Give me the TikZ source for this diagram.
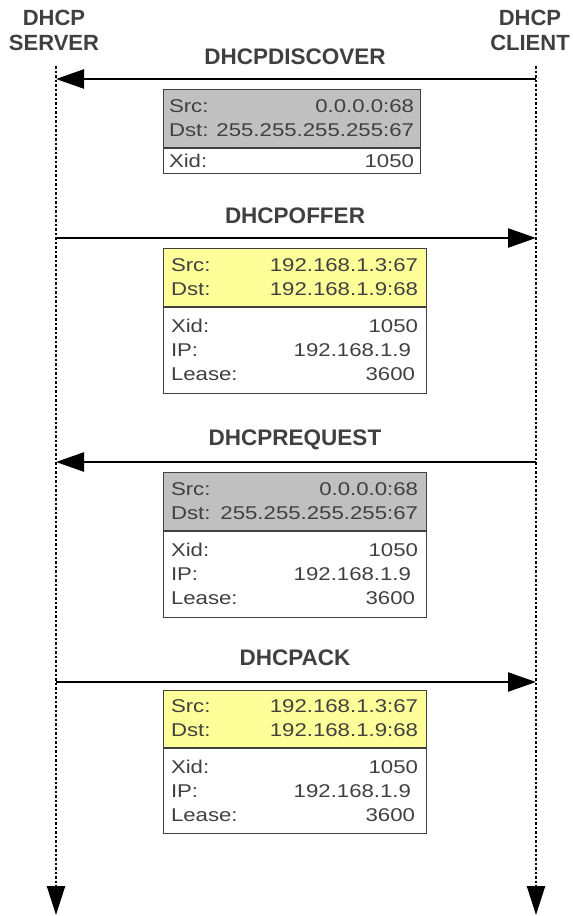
\documentclass[tikz,border=0pt]{standalone}
\usepackage{fontspec}
\setmainfont{Liberation Sans}
\newfontfamily\pktfont[FakeStretch=1.2]{Liberation Sans}
\usetikzlibrary{arrows.meta,positioning}
\definecolor{ink}{RGB}{64,64,64}
\definecolor{hdrgray}{RGB}{192,192,192}
\definecolor{hdryellow}{RGB}{255,255,153}
\newcommand{\pktrow}[2]{\makebox[\hsize]{#1\hfill#2}}
\tikzset{
  actor/.style={font=\fontsize{22}{25}\selectfont\bfseries, text=ink, align=center, inner sep=0pt},
  msg/.style={font=\fontsize{22.5}{25}\selectfont\bfseries, text=ink, inner sep=0pt},
  pkt/.style={draw=ink, line width=1pt, font=\pktfont\fontsize{18.5}{24}\selectfont, text=ink,
              text width=#1, inner xsep=8pt, inner ysep=0pt, align=left},
  pkt/.default=247pt,
  life/.style={line width=2.5pt, dash pattern=on 2.5pt off 2pt, -{Triangle[length=29pt, width=18pt]}},
  send/.style={line width=2.5pt, -{Triangle[length=28pt, width=19pt]}},
}

\begin{document}
\begin{tikzpicture}[x=1pt, y=-1pt]
  \useasboundingbox (0,0) rectangle (573,916);
  % hosts and lifelines
  \node[actor] (srv) at (54,30) {DHCP\\SERVER};
  \node[actor] (cli) at (530,30) {DHCP\\CLIENT};
  \coordinate (srvtop) at (56,66);
  \coordinate (srvend) at (56,915);
  \coordinate (clitop) at (536,66);
  \coordinate (cliend) at (536,915);
  \draw[life] (srvtop) -- (srvend);
  \draw[life] (clitop) -- (cliend);

  % discover: client -> server
  \node[msg] (m1) at (295,57) {DHCPDISCOVER};
  \coordinate (s1) at (56,79);
  \coordinate (c1) at (536,79);
  \draw[send] (c1) -- (s1);
  \node[pkt=245pt, inner xsep=6pt, fill=hdrgray, minimum height=58pt] (h1) at (291.5,118)
    {\pktrow{Src:}{0.0.0.0:68}\\ \pktrow{Dst:}{255.255.255.255:67}};
  \node[pkt=245pt, inner xsep=6pt, minimum height=25pt, below=0pt of h1] (b1)
    {\pktrow{Xid:}{1050}};

  % offer: server -> client
  \node[msg] (m2) at (295,216) {DHCPOFFER};
  \coordinate (s2) at (56,238);
  \coordinate (c2) at (536,238);
  \draw[send] (s2) -- (c2);
  \node[pkt, fill=hdryellow, minimum height=58pt] (h2) at (294.5,277)
    {\pktrow{Src:}{192.168.1.3:67}\\ \pktrow{Dst:}{192.168.1.9:68}};
  \node[pkt, minimum height=86pt, below=0pt of h2] (b2)
    {\pktrow{Xid:}{1050}\\ \pktrow{IP:}{192.168.1.9\kern7pt}\\ \pktrow{Lease:}{3600\kern3pt}};

  % request: client -> server
  \node[msg] (m3) at (295,440) {DHCPREQUEST};
  \coordinate (s3) at (56,462);
  \coordinate (c3) at (536,462);
  \draw[send] (c3) -- (s3);
  \node[pkt, fill=hdrgray, minimum height=58pt] (h3) at (294.5,501)
    {\pktrow{Src:}{0.0.0.0:68}\\ \pktrow{Dst:}{255.255.255.255:67}};
  \node[pkt, minimum height=86pt, below=0pt of h3] (b3)
    {\pktrow{Xid:}{1050}\\ \pktrow{IP:}{192.168.1.9\kern7pt}\\ \pktrow{Lease:}{3600\kern3pt}};

  % ack: server -> client
  \node[msg] (m4) at (295,658) {DHCPACK};
  \coordinate (s4) at (56,682);
  \coordinate (c4) at (536,682);
  \draw[send] (s4) -- (c4);
  \node[pkt, fill=hdryellow, minimum height=57pt] (h4) at (294.5,718.5)
    {\pktrow{Src:}{192.168.1.3:67}\\ \pktrow{Dst:}{192.168.1.9:68}};
  \node[pkt, minimum height=85pt, below=0pt of h4] (b4)
    {\pktrow{Xid:}{1050}\\ \pktrow{IP:}{192.168.1.9\kern7pt}\\ \pktrow{Lease:}{3600\kern3pt}};
\end{tikzpicture}
\end{document}
